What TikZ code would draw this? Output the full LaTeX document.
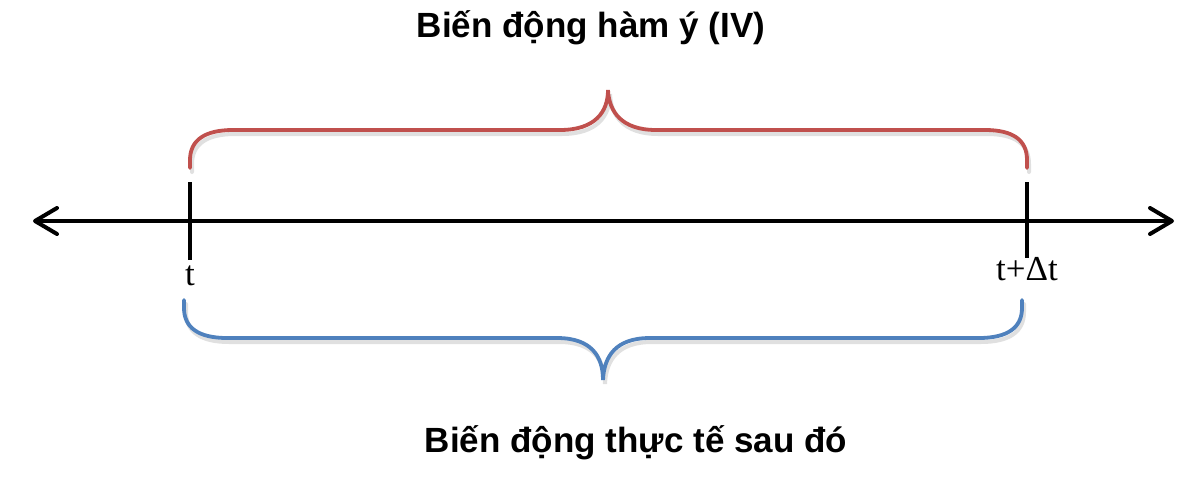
\documentclass[tikz,border=0pt]{standalone}
\usepackage{fontspec}
\setmainfont{Liberation Serif}
\newfontfamily\titlefont{Liberation Sans}
\usetikzlibrary{arrows.meta}
\definecolor{bracered}{HTML}{C0504D}
\definecolor{braceblue}{HTML}{4F81BD}
\begin{document}
\begin{tikzpicture}[x=1pt,y=-1pt,
  axisline/.style={line width=4pt,black},
  tickline/.style={line width=4pt,black},
  bracepath/.style={line width=3.8pt,line cap=round},
  braceshadow/.style={line width=4pt,line cap=round,black!30,opacity=0.4},
  titletext/.style={font=\titlefont\bfseries\fontsize{35}{40}\selectfont,inner sep=0pt,anchor=base},
  ticktext/.style={font=\fontsize{35}{40}\selectfont,inner sep=0pt,anchor=base}]
\useasboundingbox (0,0) rectangle (1200,490);
% axis
\coordinate (L) at (35,221);
\coordinate (R) at (1172,221);
\draw[axisline] (L) -- (R);
\draw[axisline,line cap=round,line join=round] (57,208) -- (L) -- (57,234);
\draw[axisline,line cap=round,line join=round] (1150,208) -- (R) -- (1150,234);
% ticks
\coordinate (T1top) at (190,182);
\coordinate (T1bot) at (190,260);
\coordinate (T2top) at (1027,182);
\coordinate (T2bot) at (1027,258);
\draw[tickline] (T1top) -- (T1bot);
\draw[tickline] (T2top) -- (T2bot);
\node[ticktext] (t1) at (190,285) {t};
\node[ticktext] (t2) at (1027,280) {t+Δt};
% red brace
\begin{scope}[shift={(2,4)}]
\draw[braceshadow] (190,168) -- (190,160) .. controls (190,140) and (205,130) .. (233,130) -- (560,130) .. controls (595,130) and (608,112) .. (608,90) .. controls (609,112) and (622,130) .. (656,130) -- (985,130) .. controls (1013,130) and (1027,140) .. (1027,160) -- (1027,168);
\end{scope}
\draw[bracepath,bracered] (190,168) -- (190,160) .. controls (190,140) and (205,130) .. (233,130) -- (560,130) .. controls (595,130) and (608,112) .. (608,90) .. controls (609,112) and (622,130) .. (656,130) -- (985,130) .. controls (1013,130) and (1027,140) .. (1027,160) -- (1027,168);
% blue brace
\begin{scope}[shift={(2,4)}]
\draw[braceshadow] (184,300) -- (184,308) .. controls (184,328) and (199,338) .. (227,338) -- (557,338) .. controls (591,338) and (603,356) .. (603,380) .. controls (604,356) and (616,338) .. (650,338) -- (979,338) .. controls (1007,338) and (1022,328) .. (1022,308) -- (1022,300);
\end{scope}
\draw[bracepath,braceblue] (184,300) -- (184,308) .. controls (184,328) and (199,338) .. (227,338) -- (557,338) .. controls (591,338) and (603,356) .. (603,380) .. controls (604,356) and (616,338) .. (650,338) -- (979,338) .. controls (1007,338) and (1022,328) .. (1022,308) -- (1022,300);
% titles
\node[titletext] (top) at (591,37) {Biến động hàm ý (IV)};
\node[titletext] (bottom) at (636,452) {Biến động thực tế sau đó};
\end{tikzpicture}
\end{document}
